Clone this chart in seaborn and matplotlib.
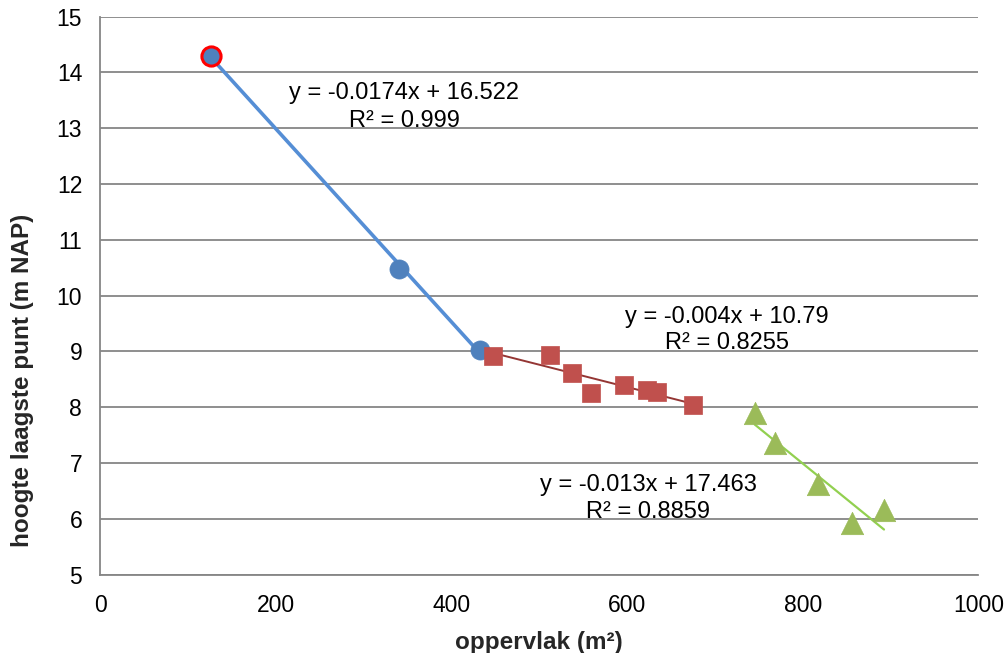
import matplotlib
matplotlib.use("Agg")
import matplotlib.pyplot as plt
import seaborn as sns
import numpy as np
import pandas as pd

# ---- data ----
blue_x = [125.7, 340.2, 432.5]
blue_y = [14.30, 10.47, 9.03]
red_x = [447.8, 512.2, 537.6, 558.9, 596.8, 623.0, 634.4, 675.4]
red_y = [8.92, 8.94, 8.61, 8.26, 8.39, 8.31, 8.28, 8.04]
green_x = [745.4, 768.4, 817.0, 855.8, 892.6]
green_y = [7.89, 7.36, 6.62, 5.92, 6.16]
highlight_x = [125.7]
highlight_y = [14.30]

eq_labels = [
    ("y = -0.0174x + 16.522", "R² = 0.999"),
    ("y = -0.004x + 10.79", "R² = 0.8255"),
    ("y = -0.013x + 17.463", "R² = 0.8859"),
]
x_ticks = [0, 200, 400, 600, 800, 1000]
y_ticks = [5, 6, 7, 8, 9, 10, 11, 12, 13, 14, 15]
x_label = "oppervlak (m²)"
y_label = "hoogte laagste punt (m NAP)"

sns.set_theme(style="white")
plt.rcParams['font.family'] = ['Liberation Sans', 'DejaVu Sans']

fig = plt.figure(figsize=(10.06, 6.53), dpi=100)
W, H = 1006, 653
ax = fig.add_axes([100.3 / W, 1 - 574.7 / H, (978.3 - 100.3) / W, (574.7 - 16.5) / H])

grid_c = "#868686"
for yv in y_ticks:
    ax.axhline(yv, color=grid_c, lw=1.3, zorder=0)

blue_df = pd.DataFrame({"x": blue_x, "y": blue_y})
red_df = pd.DataFrame({"x": red_x, "y": red_y})
green_df = pd.DataFrame({"x": green_x, "y": green_y})

# trendlines
sns.regplot(data=blue_df, x="x", y="y", ci=None, scatter=False, truncate=True, ax=ax,
            line_kws=dict(color="#558ED5", lw=2.6, zorder=3))
sns.regplot(data=red_df, x="x", y="y", ci=None, scatter=False, truncate=True, ax=ax,
            line_kws=dict(color="#943634", lw=1.4, zorder=3))
sns.regplot(data=green_df, x="x", y="y", ci=None, scatter=False, truncate=True, ax=ax,
            line_kws=dict(color="#92D050", lw=1.6, zorder=3))

# markers
sns.scatterplot(data=blue_df, x="x", y="y", ax=ax, marker="o", s=190, color="#4F81BD",
                edgecolor="#4F81BD", linewidth=0.5, zorder=4)
ax.scatter(highlight_x, highlight_y, s=190, facecolor="#4F81BD", edgecolor="#FF0000",
           linewidth=2.2, zorder=5)
sns.scatterplot(data=red_df, x="x", y="y", ax=ax, marker="s", s=150, color="#C0504D",
                edgecolor="#C0504D", linewidth=0.5, zorder=4)
sns.scatterplot(data=green_df, x="x", y="y", ax=ax, marker="^", s=260, color="#9BBB59",
                edgecolor="#9BBB59", linewidth=0.5, zorder=4)

# equation labels (centered)
eq_pos = [(345.9, 13.63, 13.13), (713.4, 9.62, 9.15), (623.8, 6.61, 6.13)]
for (l1, l2), (cx, y1, y2) in zip(eq_labels, eq_pos):
    ax.text(cx, y1, l1, ha="center", va="center", fontsize=17, color="#000000", zorder=6)
    ax.text(cx, y2, l2, ha="center", va="center", fontsize=17, color="#000000", zorder=6)

ax.set_xlim(0, 1000)
ax.set_ylim(5, 15)
ax.set_xticks(x_ticks)
ax.set_yticks(y_ticks)
ax.tick_params(axis="both", labelsize=16.5, colors="#000000", length=7, width=1.3,
               color=grid_c, direction="out")
ax.tick_params(axis="y", pad=6)
ax.tick_params(axis="x", pad=7)
for side in ["top", "right"]:
    ax.spines[side].set_visible(False)
for side in ["left", "bottom"]:
    ax.spines[side].set_color(grid_c)
    ax.spines[side].set_linewidth(1.3)
ax.set_xlabel(x_label, fontsize=17.5, fontweight="bold", labelpad=10)
ax.set_ylabel(y_label, fontsize=17.5, fontweight="bold")
ax.yaxis.set_label_coords((23 - 100.3) / 878.0, (574.7 - 380) / 558.2)
ax.yaxis.label.set_verticalalignment("center")
ax.grid(False)

fig.savefig("out.png", dpi=100)
